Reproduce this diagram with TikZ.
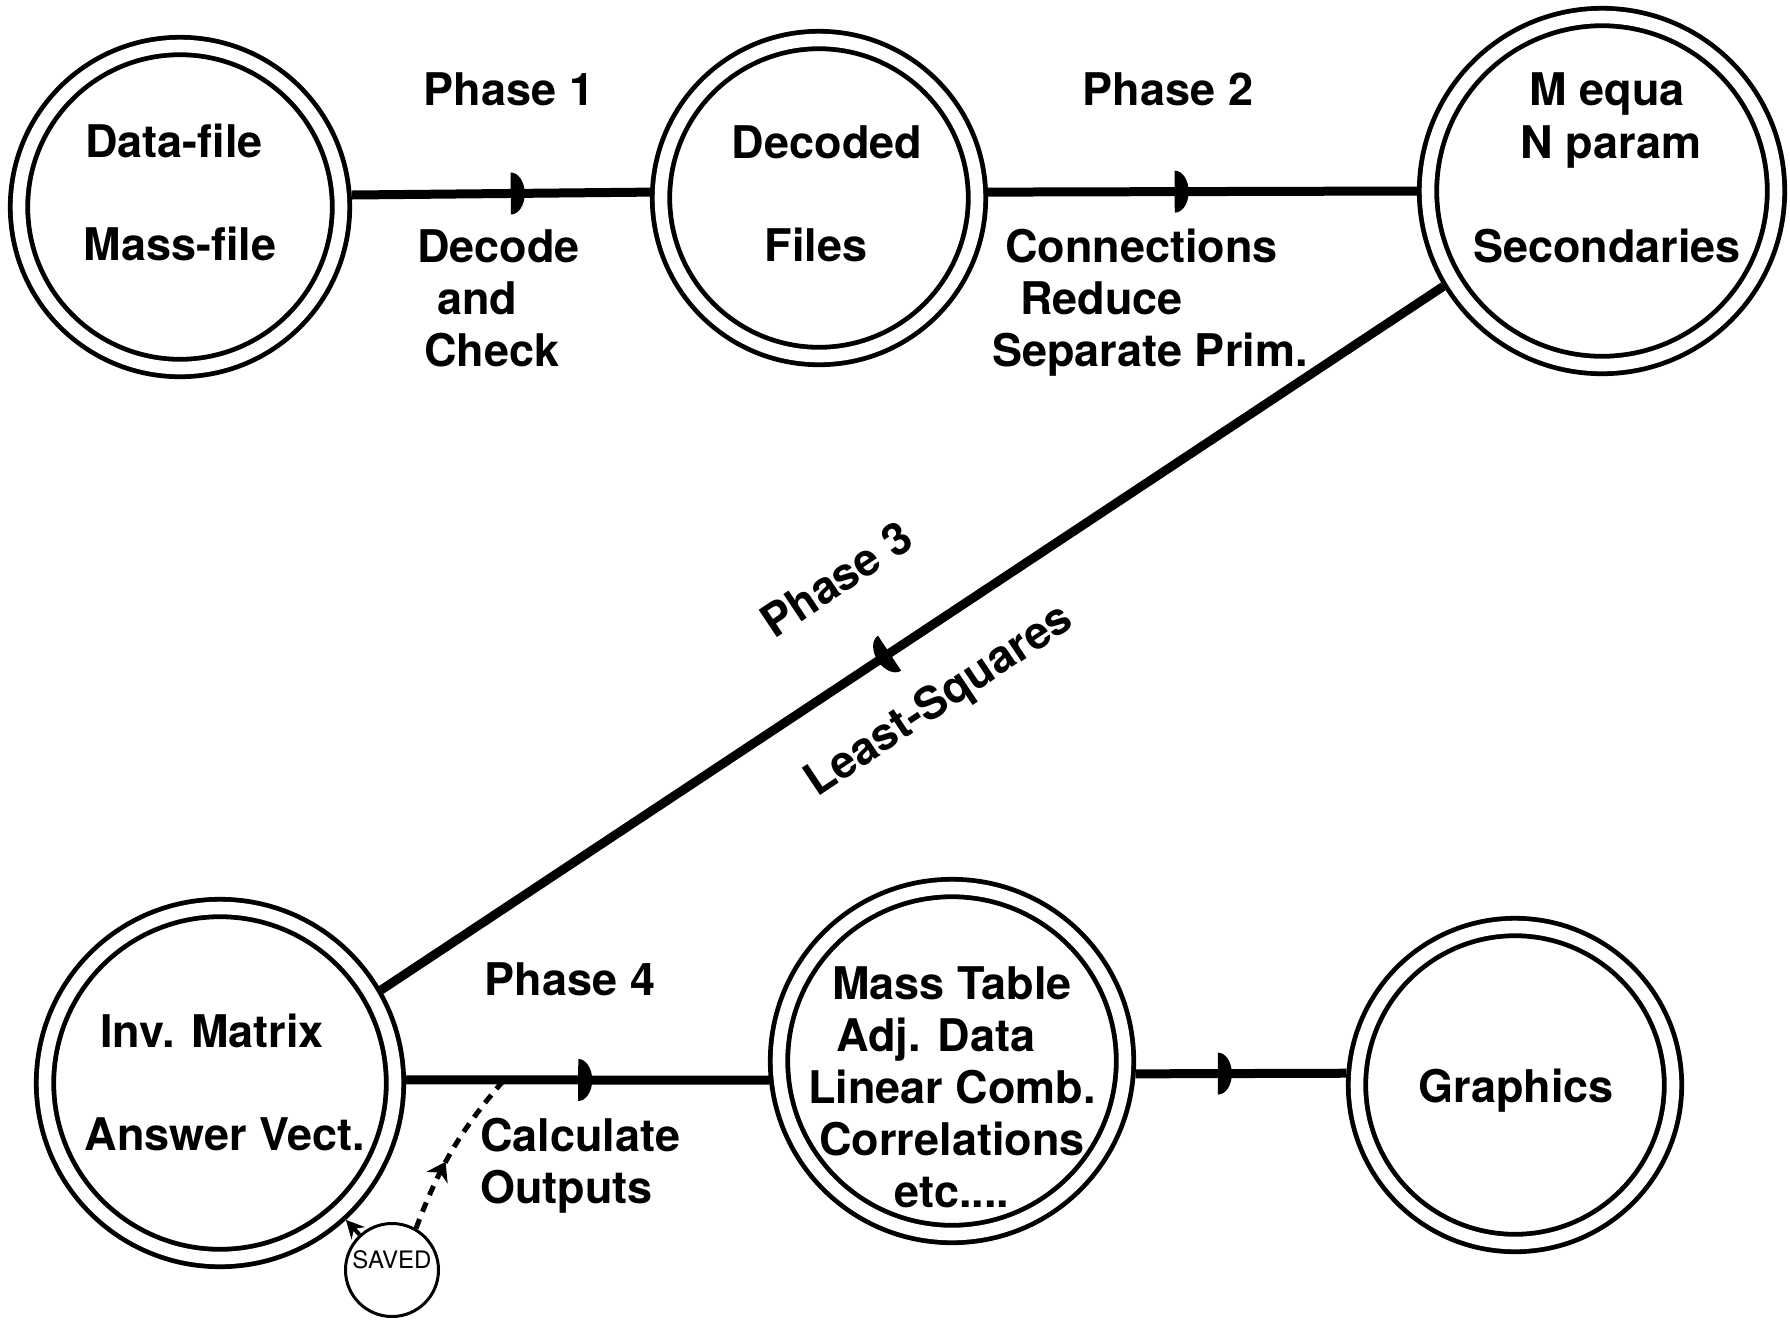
\documentclass[tikz,border=0pt]{standalone}
\usepackage{fontspec}
\setmainfont{TeX Gyre Heros}
\usetikzlibrary{arrows.meta,decorations.markings}

\tikzstyle{ring}=[
    circle, draw, double,
    line width=2.4pt,
    double distance=6.3pt,
    inner sep=0pt,
    outer sep=5.5pt,
]
\tikzstyle{savedring}=[
    circle, draw,
    line width=1.5pt,
    inner sep=0pt,
    minimum size=46.5pt,
    text depth=10pt,
    font=\fontsize{12}{14}\selectfont,
]
\tikzstyle{lbl}=[inner sep=0pt, font=\fontsize{22.5}{26}\selectfont\bfseries]
\tikzstyle{flow}=[line width=4.5pt]
\tikzstyle{dashflow}=[line width=2.5pt, dash pattern=on 5pt off 4pt]
\tikzset{
    midarrow/.style={postaction={decorate}, decoration={markings,
        mark=at position #1 with {\fill (-1pt,-10.5pt) -- (-1pt,10.5pt)
            arc[start angle=90, end angle=-90, x radius=7pt, y radius=10.5pt] -- cycle;}}},
    dasharrow/.style={postaction={decorate}, decoration={markings,
        mark=at position #1 with {\arrow{Stealth[length=9pt,width=12pt]}}}},
}

\begin{document}
\begin{tikzpicture}[x=0.5pt, y=-0.5pt]
    \fill[white] (0,0) rectangle (1790,1319);
    \useasboundingbox (0,0) rectangle (1790,1319);

    % the stores
    \node[ring, minimum size=161pt] (datafile) at (180,207) {};
    \node[ring, minimum size=158pt] (decoded) at (819,198) {};
    \node[ring, minimum size=174pt] (equa) at (1602,191) {};
    \node[ring, minimum size=175pt] (invmat) at (220,1083) {};
    \node[ring, minimum size=173pt] (masstab) at (952,1061) {};
    \node[ring, minimum size=158pt] (graph) at (1515,1085) {};
    \node[savedring] (saved) at (392,1270) {SAVED};

    % texts in the stores
    \node[lbl, anchor=base] (datafileA) at (174,157) {Data-file};
    \node[lbl, anchor=base] (datafileB) at (180,260) {Mass-file};
    \node[lbl, anchor=base] (decodedA) at (827,158) {Decoded};
    \node[lbl, anchor=base] (decodedB) at (816,261) {Files};
    \node[lbl, anchor=base] (equaA) at (1607,105) {M equa};
    \node[lbl, anchor=base] (equaB) at (1611,158) {N param};
    \node[lbl, anchor=base] (equaC) at (1607,262) {Secondaries};
    \node[lbl, anchor=base] (invmatA) at (212,1047) {Inv. Matrix};
    \node[lbl, anchor=base] (invmatB) at (225,1150) {Answer Vect.};
    \node[lbl, align=center, anchor=north] (masstabT) at (952,966)
        {Mass Table\\\hspace*{-16pt}Adj. Data\\Linear Comb.\\Correlations\\etc....};
    \node[lbl, anchor=base] (graphT) at (1516,1102) {Graphics};

    % phases
    \node[lbl, anchor=base] (phase1) at (509,105) {Phase 1};
    \node[lbl, align=left, anchor=north west] (decodeT) at (417,229)
        {Decode\\\hspace*{10pt}and\\\hspace*{3.5pt}Check};
    \node[lbl, anchor=base] (phase2) at (1168,105) {Phase 2};
    \node[lbl, align=left, anchor=north west] (connT) at (992,229)
        {\hspace*{6.5pt}Connections\\\hspace*{14pt}Reduce\\Separate Prim.};
    \node[lbl, rotate=33.7, anchor=base west] (phase3) at (774,640) {Phase 3};
    \node[lbl, rotate=33.7, anchor=base west] (lsqT) at (817,798) {Least-Squares};
    \node[lbl, anchor=base] (phase4) at (570,995) {Phase 4};
    \node[lbl, align=left, anchor=north west] (calcT) at (480,1118) {Calculate\\Outputs};

    % connectors
    \draw[flow, midarrow=0.54] (datafile.4) -- (decoded.178);
    \draw[flow, midarrow=0.44] (decoded.2) -- (equa.180);
    \draw[flow, midarrow=0.523] (equa.211) -- (invmat.30);
    \draw[flow, midarrow=0.48] (invmat.1) -- coordinate[pos=0.27] (tap) (masstab.186);
    \draw[flow, midarrow=0.40] (masstab.356) -- (graph.176);
    \draw[dashflow, dasharrow=0.42] (saved.60) to[bend left=10] (tap);
    \draw[line width=2pt, -{Stealth[length=9pt,width=9pt]}] (saved) -- (invmat);
\end{tikzpicture}
\end{document}
